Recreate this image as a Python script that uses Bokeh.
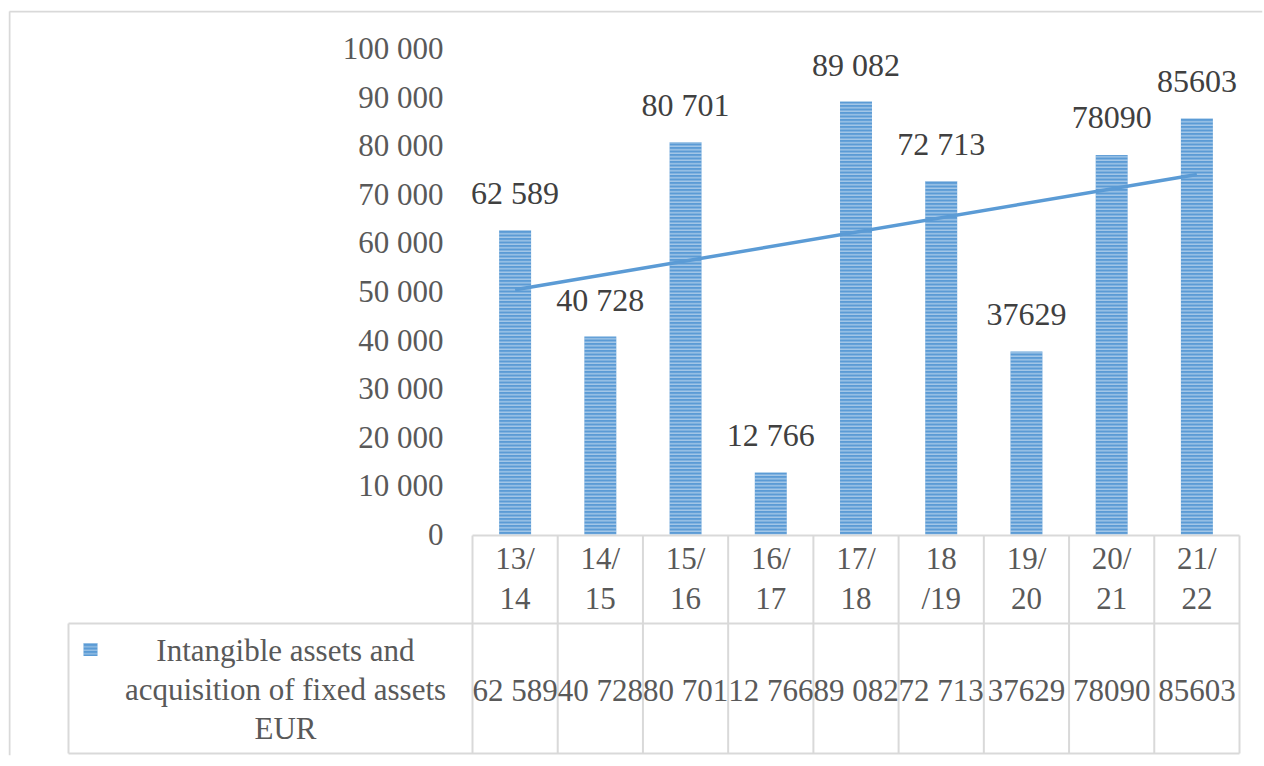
import numpy as np
from bokeh.plotting import figure
from bokeh.models import Range1d
from bokeh.embed import file_html
from bokeh.resources import INLINE
from bokeh.core.properties import value

# ---------------- data ----------------
categories = ["13/\n14", "14/\n15", "15/\n16", "16/\n17", "17/\n18",
              "18\n/19", "19/\n20", "20/\n21", "21/\n22"]
values = [62589, 40728, 80701, 12766, 89082, 72713, 37629, 78090, 85603]
value_labels = ["62 589", "40 728", "80 701", "12 766", "89 082",
                "72 713", "37629", "78090", "85603"]
y_ticks = [0, 10000, 20000, 30000, 40000, 50000, 60000, 70000, 80000, 90000, 100000]
y_tick_labels = ["0", "10 000", "20 000", "30 000", "40 000", "50 000",
                 "60 000", "70 000", "80 000", "90 000", "100 000"]
series_name = "Intangible assets and\nacquisition of fixed assets\nEUR"

# ---------------- style ----------------
FONT = "Liberation Serif"
BLUE = "#5b9bd5"
GRID = "#d9d9d9"
TXT = "#595959"

n = len(values)
xs = list(range(1, n + 1))
slope, intercept = np.polyfit(xs, values, 1)
trend_x = [xs[0], xs[-1]]
trend_y = [slope * x + intercept for x in trend_x]

# geometry (pixels) -> data units
S = 767.0 / 9.0          # px per category
K = 100000.0 / 486.0     # value units per px
FRAME_L, CAT_L, CAT_R, FRAME_R = 8, 472, 1239, 1262
FRAME_T, ZERO, FRAME_B = 10, 534, 755
x_start = 0.5 - (CAT_L - FRAME_L) / S
x_end = 0.5 + (FRAME_R - CAT_L) / S
y_end = (ZERO - FRAME_T) * K
y_start = -(FRAME_B - ZERO) * K

W, H = 1264, 760
p = figure(width=W, height=H, x_range=Range1d(x_start, x_end),
           y_range=Range1d(y_start, y_end), output_backend="svg",
           toolbar_location=None, x_axis_type=None, y_axis_type=None,
           title=None, min_border_left=FRAME_L, min_border_right=W - FRAME_R,
           min_border_top=FRAME_T, min_border_bottom=H - FRAME_B)
p.outline_line_color = None
p.grid.visible = False
p.background_fill_color = "white"
p.border_fill_color = "white"

# outer chart border (left / top)
p.segment(x0=[x_start + 1 / S, x_start + 1 / S], y0=[y_start, y_end - 1 * K],
          x1=[x_start + 1 / S, x_end], y1=[y_end - 1 * K, y_end - 1 * K],
          line_color=GRID, line_width=2)

# y tick labels
p.text(x=[0.5] * len(y_ticks), y=y_ticks, text=y_tick_labels,
       text_font=value(FONT), text_font_size="31px", text_color=TXT,
       text_align="right", text_baseline="middle", x_offset=-29)

# bars
p.vbar(x=xs, top=values, width=0.375, fill_color=BLUE, line_color=None,
       hatch_pattern="horizontal_line", hatch_color="white",
       hatch_alpha=0.5, hatch_scale=3.5, hatch_weight=1.3)

# linear trend line
p.line(trend_x, trend_y, line_color=BLUE, line_width=3.5)

# data labels
p.text(x=xs, y=values, text=value_labels, text_font=value(FONT),
       text_font_size="32px", text_color="#404040", text_align="center",
       text_baseline="middle", y_offset=-37)

# ---------------- data table ----------------
cat_right = 0.5 + (CAT_R - CAT_L) / S
row_top = -1 * K
row_mid = -89 * K
row_bot = -219 * K
left_edge = x_start + (68 - FRAME_L) / S

p.segment(x0=[0.5, left_edge, left_edge], y0=[row_top, row_mid, row_bot],
          x1=[cat_right] * 3, y1=[row_top, row_mid, row_bot],
          line_color=GRID, line_width=2)
vx = [0.5 + i for i in range(n + 1)]
p.segment(x0=vx, y0=[row_top] * (n + 1), x1=vx, y1=[row_bot] * (n + 1),
          line_color=GRID, line_width=2)
p.segment(x0=[left_edge], y0=[row_mid], x1=[left_edge], y1=[row_bot],
          line_color=GRID, line_width=2)

p.text(x=xs, y=[-44 * K] * n, text=categories, text_font=value(FONT),
       text_font_size="31px", text_color=TXT, text_align="center",
       text_baseline="middle", text_line_height=1.13)
p.text(x=xs, y=[-156 * K] * n, text=value_labels, text_font=value(FONT),
       text_font_size="31px", text_color=TXT, text_align="center",
       text_baseline="middle")

leg_x = x_start + (90 - FRAME_L) / S
p.rect(x=[leg_x], y=[-115 * K], width=14, height=13, width_units="screen",
       height_units="screen", fill_color=BLUE, line_color=None,
       hatch_pattern="horizontal_line", hatch_color="white",
       hatch_alpha=0.5, hatch_scale=3.5, hatch_weight=1)
txt_x = x_start + (285 - FRAME_L) / S
p.text(x=[txt_x], y=[-155 * K], text=[series_name], text_font=value(FONT),
       text_font_size="31px", text_color=TXT, text_align="center",
       text_baseline="middle", text_line_height=1.12)

open("out.html", "w").write(file_html(p, INLINE))
